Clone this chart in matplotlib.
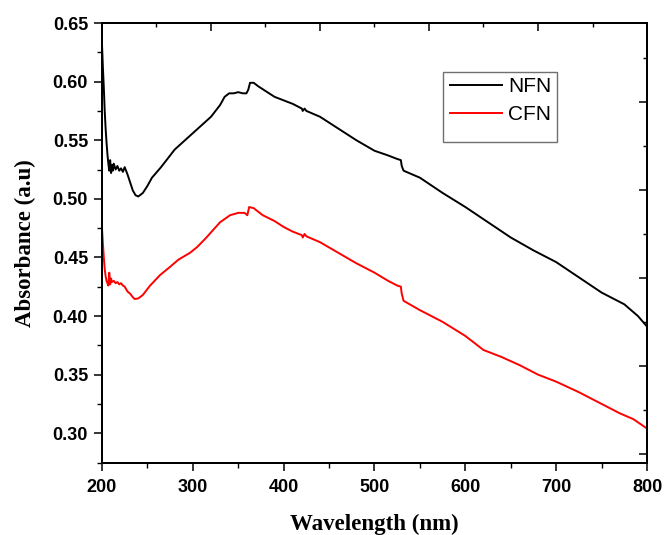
import matplotlib
matplotlib.use("Agg")
import matplotlib.pyplot as plt
from matplotlib.ticker import MultipleLocator, FixedLocator
from matplotlib.patches import Rectangle

# Data
wl_nfn = [200, 201, 202, 203, 204, 205, 206, 207, 208, 209, 210, 211, 212, 213, 215, 217, 219, 221, 223, 225,
          228, 231, 234, 237, 240, 245, 250, 255, 265, 280, 290, 300, 310, 320, 330, 335, 340, 345, 350, 355,
          359, 361, 363, 367, 372, 380, 390, 400, 410, 420, 421, 423, 425, 440, 460, 480, 500, 515, 525, 529,
          530, 532, 550, 575, 600, 625, 650, 675, 700, 725, 750, 775, 790, 800]
nfn = [0.632, 0.612, 0.595, 0.575, 0.560, 0.548, 0.538, 0.530, 0.524, 0.533, 0.522, 0.529, 0.524, 0.530, 0.525,
       0.528, 0.524, 0.526, 0.523, 0.527, 0.521, 0.514, 0.507, 0.503, 0.502, 0.505, 0.511, 0.518, 0.527, 0.542,
       0.549, 0.556, 0.563, 0.570, 0.580, 0.587, 0.590, 0.590, 0.591, 0.590, 0.590, 0.593, 0.599, 0.599, 0.596,
       0.592, 0.587, 0.584, 0.581, 0.577, 0.575, 0.577, 0.575, 0.570, 0.560, 0.550, 0.541, 0.537, 0.534, 0.533,
       0.528, 0.524, 0.518, 0.505, 0.493, 0.480, 0.467, 0.456, 0.446, 0.433, 0.420, 0.410, 0.400, 0.391]

wl_cfn = [200, 201, 202, 203, 204, 205, 206, 207, 208, 209, 210, 211, 213, 215, 217, 219, 221, 223, 225, 228,
          231, 234, 236, 240, 245, 253, 264, 275, 284, 297, 305, 315, 323, 330, 341, 350, 357, 360, 362, 367,
          377, 390, 400, 410, 420, 421, 423, 425, 440, 460, 480, 500, 515, 525, 529, 530, 532, 550, 575, 600,
          620, 640, 660, 680, 700, 725, 750, 770, 785, 800]
cfn = [0.475, 0.462, 0.450, 0.440, 0.434, 0.430, 0.428, 0.426, 0.437, 0.427, 0.432, 0.429, 0.430, 0.428, 0.429,
       0.427, 0.428, 0.426, 0.425, 0.421, 0.419, 0.416, 0.4145, 0.415, 0.418, 0.426, 0.435, 0.442, 0.448, 0.454,
       0.459, 0.467, 0.474, 0.480, 0.486, 0.488, 0.488, 0.486, 0.493, 0.492, 0.486, 0.481, 0.476, 0.472, 0.469,
       0.467, 0.470, 0.468, 0.463, 0.454, 0.445, 0.437, 0.430, 0.426, 0.425, 0.419, 0.413, 0.405, 0.395, 0.383,
       0.371, 0.365, 0.358, 0.350, 0.344, 0.335, 0.325, 0.317, 0.312, 0.304]

series_labels = ["NFN", "CFN"]
x_ticks = [200, 300, 400, 500, 600, 700, 800]
y_ticks = [0.30, 0.35, 0.40, 0.45, 0.50, 0.55, 0.60, 0.65]

fig = plt.figure(figsize=(6.64, 5.35), dpi=100)
ax = fig.add_axes([0.1536, 0.1346, 0.8208, 0.8224])

ax.plot(wl_nfn, nfn, color="black", lw=1.4, label=series_labels[0])
ax.plot(wl_cfn, cfn, color="#ff0000", lw=1.4, label=series_labels[1])

ax.set_xlim(200, 800)
ax.set_ylim(0.2746, 0.65)
ax.xaxis.set_major_locator(FixedLocator(x_ticks))
ax.xaxis.set_minor_locator(MultipleLocator(50))
ax.yaxis.set_major_locator(FixedLocator(y_ticks))
ax.yaxis.set_minor_locator(MultipleLocator(0.025))
ax.set_xticklabels([str(t) for t in x_ticks])
ax.set_yticklabels([f"{t:.2f}" for t in y_ticks])
ax.tick_params(which="major", direction="out", length=6, width=1.1, labelsize=13)
ax.tick_params(axis="x", which="major", pad=5.5)
ax.tick_params(axis="y", which="major", pad=4)
ax.tick_params(which="minor", direction="out", length=3.5, width=1.0)
for lab in ax.get_xticklabels() + ax.get_yticklabels():
    lab.set_fontweight("bold")
    lab.set_family("Liberation Sans")
for s in ax.spines.values():
    s.set_linewidth(1.3)

ax.set_xlabel("Wavelength (nm)", fontsize=16.5, fontweight="bold", family="Liberation Serif", labelpad=13)
ax.set_ylabel("Absorbance (a.u)", fontsize=16.5, fontweight="bold", family="Liberation Serif", labelpad=12)

# top axis (inward ticks, no labels)
axt = ax.twiny()
axt.set_xlim(0, 5)
axt.xaxis.set_major_locator(FixedLocator([1, 2, 3, 4]))
axt.xaxis.set_minor_locator(FixedLocator([0.5, 1.5, 2.5, 3.5, 4.5]))
axt.tick_params(which="major", direction="in", length=6, width=1.1, labeltop=False)
axt.tick_params(which="minor", direction="in", length=3, width=1.0)
axt.set_xticklabels([])

# right axis (inward ticks, no labels)
axr = ax.twinx()
axr.set_ylim(0, 1)
axr.yaxis.set_major_locator(FixedLocator([0.821, 0.621, 0.421, 0.221, 0.021]))
axr.yaxis.set_minor_locator(FixedLocator([0.921, 0.721, 0.521, 0.321, 0.121]))
axr.tick_params(which="major", direction="in", length=6, width=1.1, labelright=False)
axr.tick_params(which="minor", direction="in", length=3, width=1.0)
axr.set_yticklabels([])
for a in (axt, axr):
    for s in a.spines.values():
        s.set_linewidth(1.3)

# legend box
axr.add_patch(Rectangle((0.6257, 0.7295), 0.209, 0.1591, transform=axr.transAxes,
                        facecolor="white", edgecolor="#707070", lw=1.0, zorder=4))
h, l = ax.get_legend_handles_labels()
leg = axr.legend(h, l, loc="upper left", bbox_to_anchor=(0.6385, 0.877), frameon=False,
                 borderaxespad=0, borderpad=0, handlelength=2.5, handletextpad=0.3,
                 labelspacing=0.42, prop={"family": "Liberation Sans", "size": 15})
leg.set_zorder(5)

fig.savefig("out.png", dpi=100)
